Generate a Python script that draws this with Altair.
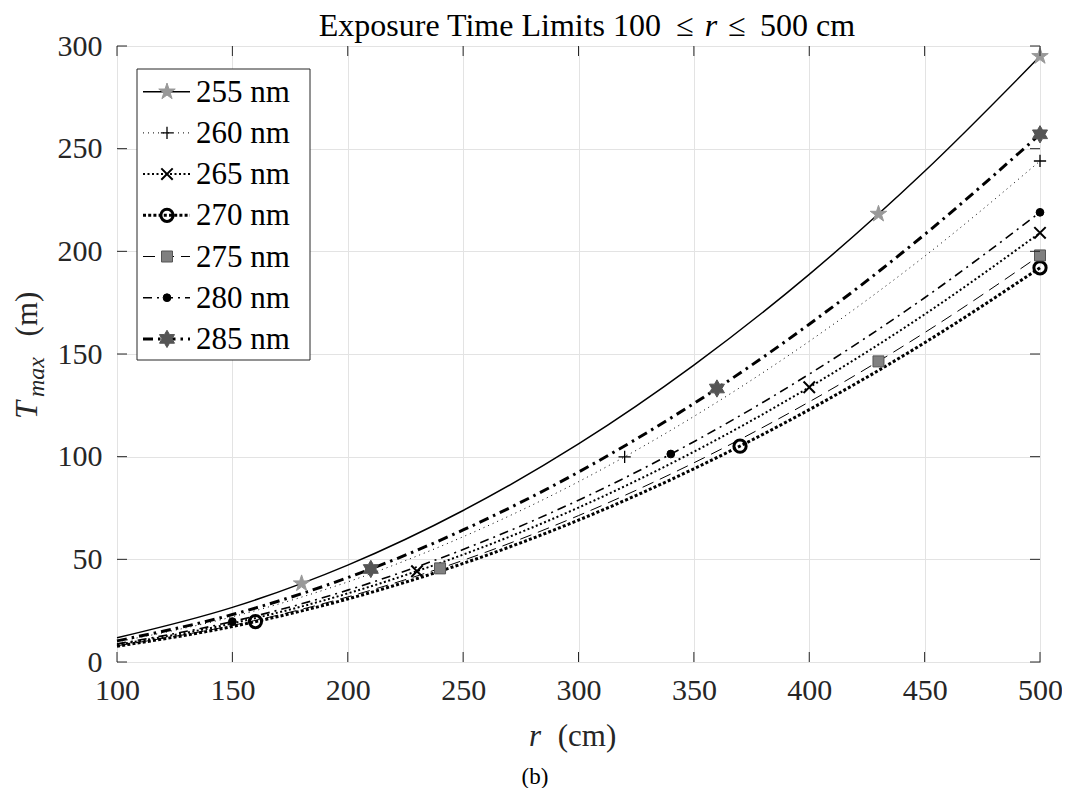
import altair as alt
import pandas as pd

# ---------------- data ----------------
series = ["255 nm", "260 nm", "265 nm", "270 nm", "275 nm", "280 nm", "285 nm"]
r_cm = [100, 150, 200, 250, 300, 350, 400, 450, 500]
t_255 = [11.8, 26.6, 47.2, 73.8, 106.2, 144.6, 188.8, 239.0, 295.0]
t_260 = [9.8, 22.0, 39.0, 61.0, 87.8, 119.6, 156.2, 197.6, 244.0]
t_265 = [8.4, 18.8, 33.4, 52.3, 75.2, 102.4, 133.8, 169.3, 209.0]
t_270 = [7.7, 17.3, 30.7, 48.0, 69.1, 94.1, 122.9, 155.5, 192.0]
t_275 = [7.9, 17.8, 31.7, 49.5, 71.3, 97.0, 126.7, 160.4, 198.0]
t_280 = [8.8, 19.7, 35.0, 54.8, 78.8, 107.3, 140.2, 177.4, 219.0]
t_285 = [10.3, 23.1, 41.1, 64.3, 92.5, 125.9, 164.5, 208.2, 257.0]

mk_255_r = [180, 430, 500]; mk_255_t = [38.2, 218.2, 295.0]
mk_260_r = [320, 500];      mk_260_t = [99.9, 244.0]
mk_265_r = [230, 400, 500]; mk_265_t = [44.2, 133.8, 209.0]
mk_270_r = [160, 370, 500]; mk_270_t = [19.7, 105.1, 192.0]
mk_275_r = [240, 430, 500]; mk_275_t = [45.6, 146.4, 198.0]
mk_280_r = [150, 340, 500]; mk_280_t = [19.7, 101.3, 219.0]
mk_285_r = [210, 360, 500]; mk_285_t = [45.3, 133.2, 257.0]

x_ticks = [100, 150, 200, 250, 300, 350, 400, 450, 500]
y_ticks = [0, 50, 100, 150, 200, 250, 300]

title_parts = ["Exposure Time Limits 100", "\u2264", "r", "\u2264", "500 cm"]
x_title_parts = ["r", "(cm)"]
y_title_parts = ["T", "max", "(m)"]
caption = "(b)"

curves = [t_255, t_260, t_265, t_270, t_275, t_280, t_285]
marks_r = [mk_255_r, mk_260_r, mk_265_r, mk_270_r, mk_275_r, mk_280_r, mk_285_r]
marks_t = [mk_255_t, mk_260_t, mk_265_t, mk_270_t, mk_275_t, mk_280_t, mk_285_t]

# ---------------- styles ----------------
W, H = 923, 616
FONT = "Liberation Serif"
AX = "#262626"

STAR = ("M0,-1L0.2245,-0.309L0.9511,-0.309L0.3633,0.118L0.5878,0.809L0,0.382"
        "L-0.5878,0.809L-0.3633,0.118L-0.9511,-0.309L-0.2245,-0.309Z")
HEX = ("M0,-1L0.2887,-0.5L0.866,-0.5L0.577,0L0.866,0.5L0.2887,0.5L0,1"
       "L-0.2887,0.5L-0.866,0.5L-0.577,0L-0.866,-0.5L-0.2887,-0.5Z")
PLUS = "M-1,0L1,0M0,-1L0,1"
CROSS = "M-1,-1L1,1M-1,1L1,-1"

line_styles = [
    dict(strokeWidth=1.5),
    dict(strokeWidth=1.0, strokeDash=[1, 4]),
    dict(strokeWidth=2.0, strokeDash=[2, 2.5]),
    dict(strokeWidth=3.0, strokeDash=[3, 2.2]),
    dict(strokeWidth=1.0, strokeDash=[12, 7]),
    dict(strokeWidth=1.6, strokeDash=[9, 5, 2, 5]),
    dict(strokeWidth=3.0, strokeDash=[10, 5, 2.5, 5]),
]
marker_styles = [
    dict(shape=STAR, size=300, filled=True, fill="#999999", stroke="#999999", strokeWidth=1),
    dict(shape=PLUS, size=150, filled=False, stroke="black", strokeWidth=1.3),
    dict(shape=CROSS, size=130, filled=False, stroke="black", strokeWidth=2),
    dict(shape="circle", size=150, filled=False, stroke="black", strokeWidth=3),
    dict(shape="square", size=121, filled=True, fill="#808080", stroke="#555555", strokeWidth=1),
    dict(shape="circle", size=60, filled=True, fill="black", stroke="black", strokeWidth=1),
    dict(shape=HEX, size=300, filled=True, fill="#555555", stroke="#555555", strokeWidth=1),
]

x_axis = alt.Axis(values=x_ticks, grid=True, gridColor="#e3e3e3", gridWidth=1, domain=False,
                  ticks=False, tickSize=0, labelFont=FONT, labelFontSize=30, labelColor=AX,
                  labelPadding=13, title=None, labelFlush=False, labelOverlap=False)
y_axis = alt.Axis(values=y_ticks, grid=True, gridColor="#e3e3e3", gridWidth=1, domain=False,
                  ticks=False, tickSize=0, labelFont=FONT, labelFontSize=30, labelColor=AX,
                  labelPadding=15, title=None, labelOverlap=False)
xs = alt.Scale(domain=[100, 500], nice=False, zero=False)
ys = alt.Scale(domain=[0, 300], nice=False, zero=False)

layers = []

# curves
for name, vals, ls in zip(series, curves, line_styles):
    df = pd.DataFrame({"r": r_cm, "t": vals, "s": name})
    layers.append(
        alt.Chart(df).mark_line(color="black", interpolate="monotone", **ls).encode(
            x=alt.X("r:Q", scale=xs, axis=x_axis),
            y=alt.Y("t:Q", scale=ys, axis=y_axis),
        )
    )

# markers
for name, rr, tt, ms in zip(series, marks_r, marks_t, marker_styles):
    df = pd.DataFrame({"r": rr, "t": tt, "s": name})
    layers.append(
        alt.Chart(df).mark_point(opacity=1, clip=False, **ms).encode(
            x=alt.X("r:Q", scale=xs, axis=x_axis),
            y=alt.Y("t:Q", scale=ys, axis=y_axis),
        )
    )

# inward ticks on all four sides
xt = pd.DataFrame({"r": x_ticks})
yt = pd.DataFrame({"t": y_ticks})
for y0, y1 in [(H, H - 10), (0, 10)]:
    layers.append(alt.Chart(xt).mark_rule(color=AX, strokeWidth=1).encode(
        x=alt.X("r:Q", scale=xs, axis=x_axis), y=alt.value(y0), y2=alt.value(y1)))
for x0, x1 in [(0, 10), (W, W - 10)]:
    layers.append(alt.Chart(yt).mark_rule(color=AX, strokeWidth=1).encode(
        y=alt.Y("t:Q", scale=ys, axis=y_axis), x=alt.value(x0), x2=alt.value(x1)))

one = pd.DataFrame({"k": [0]})

# legend box
layers.append(alt.Chart(one).mark_rect(fill="white", stroke=AX, strokeWidth=1).encode(
    x=alt.value(20), x2=alt.value(193), y=alt.value(23), y2=alt.value(314)))
row0, step = 45.7, 41.2
for i, (name, ls, ms) in enumerate(zip(series, line_styles, marker_styles)):
    yc = row0 + i * step
    d = pd.DataFrame({"s": [name]})
    layers.append(alt.Chart(d).mark_rule(color="black", **ls).encode(
        x=alt.value(26), x2=alt.value(73), y=alt.value(yc)))
    layers.append(alt.Chart(d).mark_point(opacity=1, **ms).encode(
        x=alt.value(50), y=alt.value(yc)))
    layers.append(alt.Chart(d).mark_text(align="left", baseline="middle", font=FONT,
                                         fontSize=31, color="black").encode(
        x=alt.value(79), y=alt.value(yc + 1), text="s:N"))

# title pieces (alignment, x position in plot pixels)
title_layout = [("right", 544), ("center", 568), ("center", 594), ("center", 620), ("left", 643)]
for txt, (al, px) in zip(title_parts, title_layout):
    style = "italic" if txt == "r" else "normal"
    layers.append(alt.Chart(one).mark_text(text=txt, align=al, baseline="alphabetic",
                                           font=FONT, fontSize=32, fontStyle=style,
                                           color="black").encode(
        x=alt.value(px), y=alt.value(-10)))

# x axis title
for txt, px, st in zip(x_title_parts, [418, 470], ["italic", "normal"]):
    layers.append(alt.Chart(one).mark_text(text=txt, align="center", baseline="alphabetic",
                                           font=FONT, fontSize=31, fontStyle=st,
                                           color=AX).encode(
        x=alt.value(px), y=alt.value(700)))

# y axis title (rotated)
for txt, px, py, fs in zip(y_title_parts, [-80, -73, -80], [364, 331, 268], [32, 24, 31]):
    st = "normal" if txt == "(m)" else "italic"
    layers.append(alt.Chart(one).mark_text(text=txt, align="center", baseline="alphabetic",
                                           angle=270, font=FONT, fontSize=fs, fontStyle=st,
                                           color=AX).encode(
        x=alt.value(px), y=alt.value(py)))

# caption
layers.append(alt.Chart(one).mark_text(text=caption, align="center", baseline="alphabetic",
                                       font=FONT, fontSize=23, color="black").encode(
    x=alt.value(418), y=alt.value(738)))

chart = alt.layer(*layers).properties(
    width=W, height=H,
    padding={"left": 109, "top": 38, "right": 22, "bottom": 126},
    autosize=alt.AutoSizeParams(type="none"),
    background="white",
).configure_view(stroke=AX, strokeWidth=1)

chart.save("out.html", embed_options={"renderer": "svg", "actions": False})
